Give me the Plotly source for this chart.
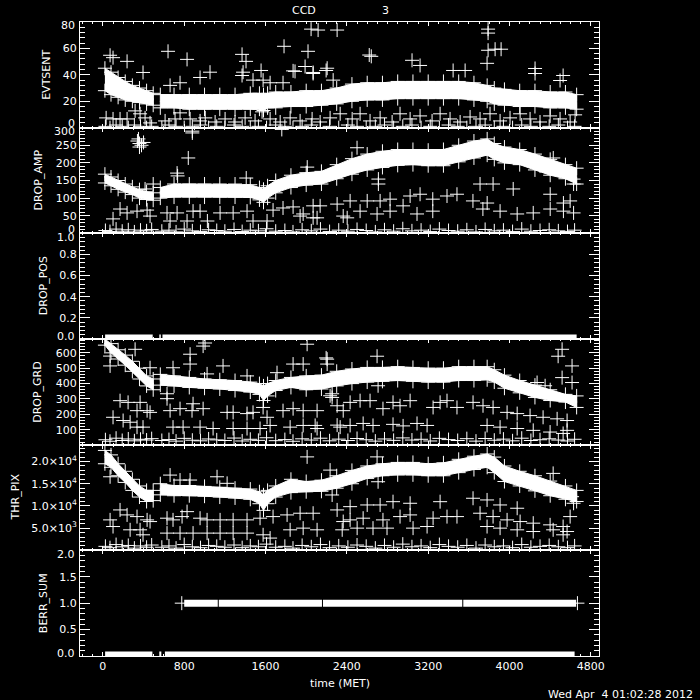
import plotly.graph_objects as go
from plotly.subplots import make_subplots

FONT = "DejaVu Sans"
W = "white"

# ---------------- data ----------------
x_range = [-225, 4880]
x_ticks = [0, 800, 1600, 2400, 3200, 4000, 4800]

# main dense band (upper / lower edge), two time segments
band_t1 = [20, 80, 150, 220, 290, 360, 430, 495]
band_t2 = [565, 700, 850, 1000, 1150, 1300, 1450, 1540, 1580, 1620, 1700, 1850, 2000, 2150, 2300, 2450,
           2600, 2750, 2900, 3050, 3200, 3350, 3500, 3650, 3780, 3850, 3950, 4100, 4250, 4400, 4550, 4660]

evt_up1 = [45, 42, 38, 35, 32, 30, 28, 26]
evt_lo1 = [28, 25, 23, 21, 20, 19, 18, 17]
evt_up2 = [25, 25, 25, 25, 25, 25, 26, 26, 25, 26, 27, 27, 28, 28, 30, 33,
           34, 34, 35, 35, 35, 35, 35, 34, 32, 30, 29, 28, 28, 27, 27, 25]
evt_lo2 = [15, 15, 14, 14, 14, 14, 14, 14, 13, 15, 15, 16, 16, 17, 18, 20,
           21, 21, 22, 22, 22, 22, 22, 21, 20, 18, 17, 16, 16, 15, 15, 14]

amp_up1 = [168, 160, 150, 140, 132, 124, 118, 115]
amp_lo1 = [143, 135, 125, 117, 110, 100, 96, 94]
amp_up2 = [130, 140, 140, 140, 140, 140, 138, 130, 125, 135, 150, 165, 172, 176, 195, 212,
           225, 233, 238, 238, 236, 238, 250, 262, 268, 255, 245, 238, 225, 210, 195, 185]
amp_lo2 = [100, 103, 103, 103, 103, 103, 102, 95, 88, 100, 115, 130, 137, 140, 155, 168,
           180, 187, 193, 195, 192, 192, 203, 214, 222, 210, 200, 195, 180, 165, 155, 140]

grd_up1 = [690, 660, 620, 585, 545, 500, 450, 430]
grd_lo1 = [650, 600, 560, 520, 480, 430, 385, 360]
grd_up2 = [460, 450, 440, 430, 425, 420, 410, 400, 385, 400, 420, 440, 450, 455, 480, 495,
           505, 505, 510, 505, 500, 500, 510, 510, 510, 490, 455, 420, 390, 360, 330, 320]
grd_lo2 = [390, 385, 375, 370, 365, 355, 345, 330, 290, 320, 355, 375, 360, 365, 385, 400,
           410, 415, 420, 415, 410, 410, 420, 420, 425, 410, 370, 340, 310, 290, 280, 245]

thr_up1 = [22500, 21500, 19500, 17800, 16000, 14500, 13500, 13500]
thr_lo1 = [19500, 18700, 16800, 15300, 13500, 12000, 11000, 11200]
thr_up2 = [15000, 14600, 14600, 14400, 14200, 14000, 13800, 13200, 12500, 13500, 14500, 16000, 15500, 15800, 16800, 18000,
           19000, 19500, 19800, 19800, 19500, 19700, 20500, 21200, 21700, 21000, 19000, 17800, 16800, 15600, 14500, 13500]
thr_lo2 = [12500, 12300, 12300, 12200, 12000, 11800, 11500, 10500, 9000, 10500, 12000, 13000, 13200, 13300, 14000, 15000,
           16200, 16800, 17000, 17000, 16800, 16800, 17500, 18200, 18700, 17500, 15500, 14500, 13400, 12300, 11500, 11000]

# near-zero rows
t_base = [25, 70, 130, 190, 250, 310, 370, 430, 480,
          580, 650, 720, 800, 880, 960, 1040, 1120, 1200,
          1290, 1370, 1450, 1530, 1610, 1700, 1790, 1870, 1960,
          2050, 2140, 2230, 2320, 2410, 2500, 2590, 2680, 2770,
          2860, 2950, 3040, 3130, 3220, 3310, 3400, 3490, 3580,
          3670, 3760, 3850, 3940, 4030, 4120, 4210, 4300, 4390,
          4480, 4570, 4640]
evt_base = [1, 0, 2, 1, 0, 2, 1, 0, 1,
            0, 2, 1, 0, 1, 2, 0, 1, 0,
            2, 1, 0, 1, 0, 2, 1, 0, 1,
            2, 0, 1, 0, 2, 1, 0, 1, 2,
            0, 1, 2, 0, 1, 0, 2, 1, 0,
            1, 2, 0, 1, 0, 2, 1, 0, 1,
            2, 0, 1]
amp_base = [8, 5, 12, 6, 10, 4, 9, 7, 11,
            6, 9, 4, 12, 7, 5, 10, 8, 6,
            11, 5, 9, 7, 13, 6, 8, 4, 10,
            7, 12, 5, 9, 6, 11, 8, 4, 10,
            6, 13, 7, 9, 5, 12, 8, 6, 10,
            4, 11, 7, 9, 5, 12, 6, 8, 10,
            7, 5, 9]
grd_base = [35, 25, 45, 30, 40, 28, 38, 33, 42,
            30, 36, 26, 44, 32, 28, 40, 34, 30,
            46, 27, 38, 31, 48, 29, 36, 25, 41,
            33, 45, 28, 39, 30, 43, 35, 26, 40,
            31, 47, 33, 38, 27, 44, 36, 30, 42,
            26, 43, 32, 39, 28, 45, 30, 35, 41,
            33, 27, 38]
thr_base = [900, 600, 1300, 800, 1100, 500, 1000, 700, 1200,
            700, 1000, 500, 1300, 800, 600, 1100, 900, 700,
            1200, 600, 1000, 800, 1400, 700, 900, 500, 1100,
            800, 1300, 600, 1000, 700, 1200, 900, 500, 1100,
            700, 1400, 800, 1000, 600, 1300, 900, 700, 1100,
            500, 1200, 800, 1000, 600, 1300, 700, 900, 1100,
            800, 600, 1000]

# EVTSENT secondary points
evt_low_t = [32, 100, 169, 238, 317, 366, 415, 464, 612, 710, 759, 858, 956, 1007, 1104, 1202,
             1300, 1399, 1497, 1566, 1645, 1744, 1842, 1940, 2058, 2137, 2235, 2334, 2452, 2530, 2628, 2727,
             2845, 2923, 3022, 3120, 3238, 3317, 3415, 3514, 3612, 3710, 3808, 3907, 4005, 4104, 4202, 4300,
             4399, 4497, 4596, 4645]
evt_low_v = [7.4, 6.6, 6.6, 6.6, 12.7, 10.5, 7.4, 3.6, 5.1, 6.6, 11.2, 6.6, 5.1, 7.4, 4.3, 6.6,
             4.3, 7.4, 5.1, 12, 6.6, 4.3, 7.4, 5.1, 6.6, 4.3, 7.4, 10.5, 6.6, 10.5, 5.1, 7.4,
             4.3, 10.5, 6.6, 8.9, 5.1, 10.5, 6.6, 4.3, 8.1, 6.6, 10.5, 5.1, 7.4, 10.5, 6.6, 4.3,
             8.9, 6.6, 4.3, 9.7]
evt_out_t = [641, 828, 71, 100, 238, 1369, 1408, 1782, 2048, 2117, 2304, 2018, 1989, 2196, 1556, 1369,
             1890, 2068, 395, 2620, 2640, 3789, 3789, 3789, 3858, 3917, 3779, 3041, 3120, 3445, 3563, 4251,
             4251, 4527, 4497, 1379, 1477, 1576, 1645, 1772, 1871, 2068, 2206, 2265, 759, 956, 1054, 661]
evt_out_v = [57.8, 51.7, 54.8, 53, 50.2, 55.5, 50.2, 61.6, 74.6, 73.9, 73.9, 57.8, 46.3, 43.3, 43.3, 39.5,
             42.6, 41.8, 41.8, 55, 54, 74.6, 71.6, 58.6, 59.4, 59.4, 48.7, 51, 47.1, 43.3, 43.3, 44.8,
             41, 39.5, 35.7, 42, 36, 36, 34, 34, 43, 41, 45, 36, 34, 38, 42, 32]

# DROP_AMP secondary points
amp_mid_t = [100, 169, 238, 336, 435, 464, 631, 661, 730, 828, 887, 956, 1028, 1153, 1281, 1418,
             1477, 1615, 1674, 1772, 1871, 1940, 2068, 2137, 2304, 2403, 2068, 2432, 2600, 2727, 2825, 3022,
             3120, 3245, 3385, 3483, 3640, 3780, 3710, 3838, 4036, 4400, 4530, 4596, 2364, 2530, 2697, 2825,
             2953, 3090, 3245, 3738, 3907, 4075, 4233, 4400, 4530, 4630, 1970, 2107]
amp_mid_v = [41, 69, 58, 63, 66, 49, 58, 35, 58, 35, 63, 63, 35, 58, 58, 63,
             35, 35, 66, 72, 75, 49, 44, 78, 83, 44, 78, 92, 92, 92, 97, 106,
             111, 97, 106, 111, 92, 86, 140, 140, 126, 111, 86, 92, 49, 63, 55, 63,
             78, 55, 63, 69, 63, 55, 58, 69, 63, 58, 55, 44]
amp_out_t = [340, 360, 380, 400, 360, 350, 840, 730, 735, 1410, 495, 415, 2500, 2010, 2010, 2710,
             2710, 4430, 4430, 4630, 4630, 4300, 880, 880, 1760]
amp_out_v = [262, 255, 250, 258, 245, 268, 214, 171, 163, 157, 140, 126, 243, 188, 171, 154,
             140, 214, 191, 154, 140, 191, 285, 290, 295]

# DROP_POS / BERR_SUM dense rows (time spans)
pos_start = [22, 555, 586]
pos_end = [490, 570, 4660]
berr0_start = [22, 555, 610]
berr0_end = [487, 575, 4640]
berr1_start = [800, 1140, 2165, 3545]
berr1_end = [1130, 2155, 3535, 4655]
berr1_single_t = [776, 4668]
berr1_single_v = [1, 1]

# DROP_GRD secondary points
grd_mid_t = [169, 248, 366, 336, 435, 464, 100, 199, 268, 336, 395, 631, 631, 661, 759, 877,
             986, 887, 690, 789, 956, 1084, 1222, 1281, 1418, 1477, 1576, 1615, 1645, 1546, 1281, 1418,
             1772, 1871, 1970, 2107, 1842, 1970, 2107, 2304, 2364, 2334, 2088, 2432, 2530, 2628, 2432, 2560,
             2657, 2755, 2854, 2923, 3022, 3090, 3189, 3248, 3317, 3385, 3483, 3641, 3739, 3838, 3976, 4075,
             4202, 4330, 4468, 4566, 3779, 3907, 4075, 4233, 4399, 4527, 4566, 2304, 2854, 2953]
grd_mid_v = [289, 278, 278, 224, 224, 213, 181, 160, 149, 117, 117, 334, 302, 224, 237, 224,
             237, 269, 117, 117, 117, 108, 213, 213, 205, 213, 245, 181, 128, 108, 108, 108,
             224, 237, 224, 224, 117, 128, 108, 256, 224, 117, 128, 278, 289, 289, 128, 141,
             128, 237, 278, 256, 289, 141, 128, 245, 278, 289, 245, 278, 256, 245, 213, 205,
             192, 181, 171, 160, 128, 117, 108, 96, 85, 76, 96, 130, 135, 125]
grd_out_t = [71, 317, 71, 464, 690, 858, 858, 1025, 1182, 1418, 1713, 1871, 1970, 2206, 2206, 2235,
             2009, 1005, 2196, 2697, 2707, 4517, 4478, 4615, 4517, 4615, 4350, 4271, 2255, 2255, 986]
grd_out_v = [579, 623, 515, 503, 503, 591, 527, 463, 515, 450, 471, 527, 527, 559, 527, 321,
             656, 664, 567, 578, 386, 623, 578, 515, 439, 407, 386, 407, 310, 334, 644]

# THR_PIX secondary points
thr_mid_t = [169, 71, 100, 238, 336, 435, 464, 268, 366, 395, 631, 690, 779, 828, 956, 1025,
             1153, 1281, 1418, 1546, 1674, 1812, 1940, 2068, 631, 759, 887, 1025, 1153, 1281, 1418, 1576,
             1645, 1842, 1970, 2107, 2304, 2364, 2354, 2432, 2600, 2727, 2854, 3022, 3317, 3641, 3779, 3907,
             4075, 2432, 2560, 2755, 2923, 3022, 3248, 3385, 3483, 3710, 3838, 3976, 4104, 4233, 4399, 4527,
             4596, 2501, 2657, 2795, 3051, 3189, 3779, 3907, 4075, 4233, 4429, 4566, 4527]
thr_mid_v = [9100, 6860, 5360, 7980, 7600, 6860, 6480, 4620, 4620, 3500, 7240, 6860, 7600, 8720, 7240, 6860,
             6860, 6860, 6860, 7240, 7600, 7980, 8360, 8360, 3880, 3880, 3880, 3880, 3880, 3880, 3880, 3500,
             2760, 4620, 5000, 4620, 9100, 6480, 4620, 9840, 10220, 10220, 10960, 10600, 10960, 11730, 11350, 10220,
             9480, 6860, 7240, 6860, 7600, 7980, 7240, 7600, 7600, 8360, 7600, 6860, 6480, 6120, 5740, 5360,
             7600, 5000, 5000, 5000, 5000, 5360, 5360, 5000, 4620, 4240, 4620, 4240, 3500]
thr_out_t = [71, 661, 759, 858, 1123, 1222, 2009, 2235, 2255, 2697, 2707, 4429, 4630, 4615]
thr_out_v = [16570, 16950, 15830, 15830, 16570, 15090, 21050, 18070, 12470, 21050, 15450, 17330, 10600, 12090]

# axis labels / ticks (interior ticks; panel-edge labels are placed separately)
panel_names = ["EVTSENT", "DROP_AMP", "DROP_POS", "DROP_GRD", "THR_PIX", "BERR_SUM"]
y_ranges = [[0, 80], [0, 300], [0, 1], [3, 690], [2, 23800], [0, 2]]
y_tickvals = [[20, 40, 60], [50, 100, 150, 200, 250], [0.2, 0.4, 0.6, 0.8],
              [100, 200, 300, 400, 500, 600], [5000, 10000, 15000, 20000], [0.5, 1.0, 1.5]]
y_ticktext = [["20", "40", "60"], ["50", "100", "150", "200", "250"],
              ["0.2", "0.4", "0.6", "0.8"], ["100", "200", "300", "400", "500", "600"],
              ["5.0×10<sup>3</sup>", "1.0×10<sup>4</sup>", "1.5×10<sup>4</sup>", "2.0×10<sup>4</sup>"],
              ["0.5", "1.0", "1.5"]]
y_minor = [4, 10, 0.04, 20, 1000, 0.1]
# edge labels: (row, value, text, vertical shift in px)
edge_labels = [(1, 80, "80", -3), (1, 0, "0", 4), (2, 300, "300", -4), (2, 0, "0", 4),
               (3, 1.0, "1.0", -4), (3, 0.0, "0.0", 3), (6, 2.0, "2.0", -4), (6, 0.0, "0.0", 3)]
title_offsets = [-33, -42, -37, -42, -65, -37]

# ---------------- figure ----------------
fig = make_subplots(rows=6, cols=1, shared_xaxes=True, vertical_spacing=0)
cross = dict(symbol="cross-thin", size=10, color=W, line=dict(width=1, color=W))


def band(row, t, up, lo):
    fig.add_trace(go.Scatter(x=t + t[::-1], y=up + lo[::-1], mode="lines", fill="toself",
                             fillcolor=W, line=dict(color=W, width=1), hoverinfo="skip"), row=row, col=1)
    fig.add_trace(go.Scatter(x=t + t, y=up + lo, mode="markers", marker=cross), row=row, col=1)


def pts(row, t, v):
    fig.add_trace(go.Scatter(x=t, y=v, mode="markers", marker=cross), row=row, col=1)


def segs(row, starts, ends, value, width):
    xs, ys = [], []
    for s, e in zip(starts, ends):
        xs += [s, e, None]
        ys += [value, value, None]
    fig.add_trace(go.Scatter(x=xs, y=ys, mode="lines", line=dict(color=W, width=width)), row=row, col=1)


# EVTSENT
band(1, band_t1, evt_up1, evt_lo1)
band(1, band_t2, evt_up2, evt_lo2)
pts(1, t_base, evt_base)
pts(1, evt_low_t, evt_low_v)
pts(1, evt_out_t, evt_out_v)
# DROP_AMP
band(2, band_t1, amp_up1, amp_lo1)
band(2, band_t2, amp_up2, amp_lo2)
pts(2, t_base, amp_base)
pts(2, amp_mid_t, amp_mid_v)
pts(2, amp_out_t, amp_out_v)
# DROP_POS
segs(3, pos_start, pos_end, 0, 9)
# DROP_GRD
band(4, band_t1, grd_up1, grd_lo1)
band(4, band_t2, grd_up2, grd_lo2)
pts(4, t_base, grd_base)
pts(4, grd_mid_t, grd_mid_v)
pts(4, grd_out_t, grd_out_v)
# THR_PIX
band(5, band_t1, thr_up1, thr_lo1)
band(5, band_t2, thr_up2, thr_lo2)
pts(5, t_base, thr_base)
pts(5, thr_mid_t, thr_mid_v)
pts(5, thr_out_t, thr_out_v)
# BERR_SUM
segs(6, berr0_start, berr0_end, 0, 9)
segs(6, berr1_start, berr1_end, 1, 7)
pts(6, berr1_single_t, berr1_single_v)

tick_font = dict(family=FONT, size=11, color=W)
for i in range(6):
    fig.update_yaxes(row=i + 1, col=1, range=y_ranges[i], tickmode="array", tickvals=y_tickvals[i],
                     ticktext=y_ticktext[i], ticks="inside", ticklen=10, tickwidth=1, tickcolor=W,
                     showline=True, linecolor=W, linewidth=1, mirror="ticks", showgrid=False,
                     zeroline=False, tickfont=tick_font,
                     minor=dict(ticks="inside", ticklen=5, dtick=y_minor[i], tick0=0,
                                tickcolor=W, tickwidth=1, showgrid=False))

fig.update_xaxes(range=x_range, tickmode="array", tickvals=x_ticks, ticktext=[str(v) for v in x_ticks],
                 ticks="inside", ticklen=4, tickwidth=1, tickcolor=W, showline=True, linecolor=W,
                 linewidth=1, mirror="ticks", showgrid=False, zeroline=False, tickfont=tick_font,
                 minor=dict(ticks="inside", ticklen=2, dtick=100, tick0=0, tickcolor=W, tickwidth=1,
                            showgrid=False))
for r in range(1, 6):
    fig.update_xaxes(row=r, col=1, showticklabels=False)
fig.update_xaxes(row=6, col=1, showticklabels=True)

annotations = []
yrefs = ["y", "y2", "y3", "y4", "y5", "y6"]
for row, val, txt, sh in edge_labels:
    annotations.append(dict(xref="paper", x=0, xanchor="right", xshift=-3, yref=yrefs[row - 1], y=val,
                            yanchor="middle", yshift=sh, text=txt, showarrow=False, font=tick_font))
for i, name in enumerate(panel_names):
    annotations.append(dict(xref="paper", x=0, xanchor="center", xshift=title_offsets[i],
                            yref=yrefs[i] + " domain", y=0.5, yanchor="middle", text=name, textangle=-90,
                            showarrow=False, font=tick_font))
annotations += [
    dict(xref="paper", x=0, xanchor="center", xshift=224, yref="paper", y=1, yanchor="middle", yshift=12,
         text="CCD", showarrow=False, font=tick_font),
    dict(xref="paper", x=0, xanchor="center", xshift=305, yref="paper", y=1, yanchor="middle", yshift=12,
         text="3", showarrow=False, font=tick_font),
    dict(xref="paper", x=0.5, xanchor="center", yref="paper", y=0, yanchor="middle", yshift=-27,
         text="time (MET)", showarrow=False, font=tick_font),
    dict(xref="paper", x=1, xanchor="right", xshift=96, yref="paper", y=0, yanchor="middle", yshift=-38,
         text="Wed Apr\u00a0 4 01:02:28 2012", showarrow=False, font=tick_font),
]

fig.update_layout(width=700, height=700, margin=dict(l=80, r=101, t=22, b=44),
                  paper_bgcolor="black", plot_bgcolor="black", showlegend=False,
                  font=dict(family=FONT, size=11, color=W), annotations=annotations)

# remove the default page margin so the 700x700 figure fills the window exactly
fig.write_html("out.html", config={"displayModeBar": False},
               post_script="document.body.style.margin='0px';"
                           "document.documentElement.style.overflow='hidden';"
                           "document.body.style.background='black';")
